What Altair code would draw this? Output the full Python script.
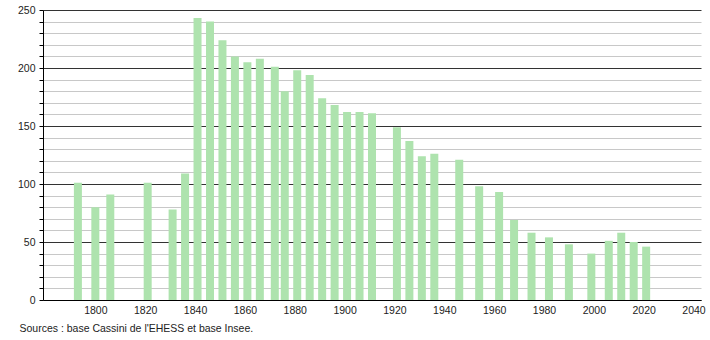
import altair as alt
import pandas as pd

years = [1793, 1800, 1806, 1821, 1831, 1836, 1841, 1846, 1851, 1856, 1861, 1866,
         1872, 1876, 1881, 1886, 1891, 1896, 1901, 1906, 1911, 1921, 1926, 1931,
         1936, 1946, 1954, 1962, 1968, 1975, 1982, 1990, 1999, 2006, 2011, 2016, 2021]
population = [101, 80, 91, 101, 78, 109, 243, 240, 224, 210, 205, 208,
              201, 180, 198, 194, 174, 168, 162, 162, 161, 149, 137, 124,
              126, 121, 98, 93, 69, 58, 54, 48, 40, 51, 58, 50, 46]
x_ticks = list(range(1800, 2041, 20))
y_grid = list(range(0, 251, 10))

df = pd.DataFrame({"year": years, "pop": population})

FONT = "Liberation Sans"

chart = alt.Chart(df).mark_bar(size=8, color="#aee3ae").encode(
    x=alt.X("year:Q",
            scale=alt.Scale(domain=[1779, 2043], nice=False, zero=False, padding=0),
            axis=alt.Axis(values=x_ticks, format="d", title=None, grid=False,
                          ticks=False, domainColor="#000", domainWidth=1.2,
                          labelFont=FONT, labelFontSize=10.5, labelColor="#222",
                          labelPadding=5)),
    y=alt.Y("pop:Q",
            scale=alt.Scale(domain=[0, 250], nice=False),
            axis=alt.Axis(values=y_grid, title=None,
                          labelExpr="datum.value % 50 === 0 ? datum.label : ''",
                          gridColor=alt.condition("datum.value % 50 === 0", alt.value("#333333"), alt.value("#c8c8c8")),
                          gridWidth=1,
                          tickColor="#000", tickSize=4,
                          domainColor="#000",
                          labelFont=FONT, labelFontSize=10.5, labelColor="#222",
                          labelPadding=4)),
).properties(
    width=658, height=290,
    title=alt.TitleParams("Sources : base Cassini de l'EHESS et base Insee.",
                          orient="bottom", anchor="start", frame="bounds",
                          font=FONT, fontSize=10.5, fontWeight="normal",
                          color="#222", offset=8, dx=2),
    autosize=alt.AutoSizeParams(type="none"),
    padding={"left": 43, "top": 10, "right": 9, "bottom": 40},
).configure_view(stroke=None)

chart.save("out.html", embed_options={"renderer": "svg", "actions": False})
